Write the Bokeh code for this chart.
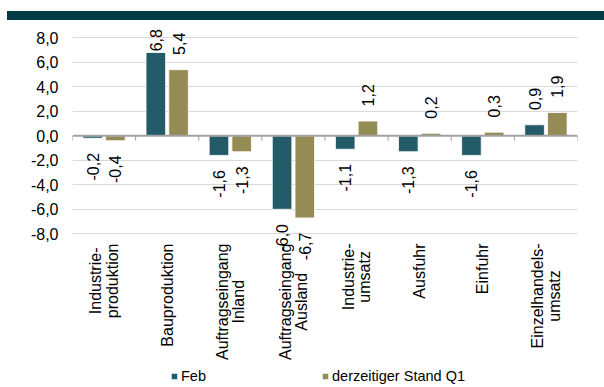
import math
from bokeh.plotting import figure
from bokeh.models import (Range1d, FactorRange, FixedTicker, Legend, LegendItem,
                          ColumnDataSource, Div)
from bokeh.transform import dodge
from bokeh.layouts import column
from bokeh.embed import file_html
from bokeh.resources import INLINE

categories = ["Industrie-\nproduktion", "Bauproduktion", "Auftragseingang\nInland",
              "Auftragseingang\nAusland", "Industrie-\numsatz", "Ausfuhr", "Einfuhr",
              "Einzelhandels-\numsatz"]
feb = [-0.2, 6.8, -1.6, -6.0, -1.1, -1.3, -1.6, 0.9]
q1 = [-0.4, 5.4, -1.3, -6.7, 1.2, 0.2, 0.3, 1.9]
series_names = ["Feb", "derzeitiger Stand Q1"]
y_ticks = [-8, -6, -4, -2, 0, 2, 4, 6, 8]

FONT = "Liberation Sans"
C_FEB = "#235B69"
C_Q1 = "#958B54"
OFFS = [-0.18, 0.18]

# layout (pixels): the frame reaches down to the bottom so that labels below
# the value area (as in the original) are not clipped
TOP_BAND = 20
FRAME_TOP = 28
FRAME_H = 387 - FRAME_TOP
PPU = 12.25                       # pixels per value unit
Y_MAX = 8 + (37.3 - FRAME_TOP) / PPU
Y_MIN = Y_MAX - FRAME_H / PPU
CAT_LABEL_TOP_PX = 243
CAT_FS = 16

# approximate glyph advance widths (per 1000 em) for centring label lines
ADV = {"A": 667, "B": 667, "E": 667, "I": 278, "a": 556, "d": 556, "e": 556,
       "f": 278, "g": 556, "h": 556, "i": 222, "k": 500, "l": 222, "n": 556,
       "o": 556, "p": 556, "r": 333, "s": 500, "t": 278, "u": 556, "z": 500, "-": 333}


def text_w(s, fs):
    return sum(ADV.get(c, 556) for c in s) * fs / 1000.0


def px_to_y(px):
    return Y_MAX - (px - FRAME_TOP) / PPU


def fmt(v):
    return f"{v:.1f}".replace(".", ",")


src = ColumnDataSource(dict(cat=categories, feb=feb, q1=q1))

p = figure(x_range=FactorRange(*categories), y_range=Range1d(Y_MIN, Y_MAX),
           frame_width=505, frame_height=FRAME_H, output_backend="svg",
           toolbar_location=None, min_border_left=72, min_border_right=27,
           min_border_top=FRAME_TOP - TOP_BAND, min_border_bottom=0)
p.outline_line_color = None
p.background_fill_color = "white"

# grid
p.xgrid.grid_line_color = None
p.ygrid.ticker = FixedTicker(ticks=[t for t in y_ticks if t != 0])
p.ygrid.grid_line_color = "#D9D9D9"
p.ygrid.grid_line_width = 1

# bars
r_feb = p.vbar(x=dodge("cat", OFFS[0], range=p.x_range), top="feb", width=0.31,
               source=src, fill_color=C_FEB, line_color="white", line_width=0.8)
r_q1 = p.vbar(x=dodge("cat", OFFS[1], range=p.x_range), top="q1", width=0.31,
              source=src, fill_color=C_Q1, line_color="white", line_width=0.8)

# zero axis line and category boundary ticks
bounds = list(range(len(categories) + 1))
p.segment(x0=[0], y0=[0], x1=[len(categories)], y1=[0], line_color="#A0A0A0", line_width=2)
p.segment(x0=bounds, y0=[0] * len(bounds), x1=bounds, y1=[-0.4] * len(bounds),
          line_color="#A0A0A0", line_width=1)

# data labels (outside end; kept inside the top of the plot)
lx, ly, lt, la = [], [], [], []
for series, off in [(feb, OFFS[0]), (q1, OFFS[1])]:
    for i, v in enumerate(series):
        lx.append(i + 0.5 + off)
        lt.append(fmt(v))
        if v >= 0:
            ly.append(min(v + 1.2, 6.9))
            la.append("left")
        else:
            ly.append(v - 1.2)
            la.append("right")
p.text(x=lx, y=ly, text=lt, text_align=la, angle=math.pi / 2,
       text_baseline="middle", text_font={"value": FONT}, text_font_size="16px",
       text_color="#000000")

# category labels (rotated, lines centred, block starting below the plot)
cx, cy, ct = [], [], []
for i, c in enumerate(categories):
    L = max(text_w(s, CAT_FS) for s in c.split("\n"))
    cx.append(i + 0.5)
    cy.append(px_to_y(CAT_LABEL_TOP_PX + L / 2))
    ct.append(c)
p.text(x=cx, y=cy, text=ct, angle=math.pi / 2, text_align="center",
       text_baseline="middle", text_font={"value": FONT},
       text_font_size=f"{CAT_FS}px", text_color="#000000", text_line_height=0.95)

# axes
p.xaxis.visible = False
p.yaxis.ticker = FixedTicker(ticks=y_ticks)
p.yaxis.major_label_overrides = {t: fmt(t) for t in y_ticks}
p.yaxis.axis_line_color = None
p.yaxis.major_tick_line_color = None
p.yaxis.minor_tick_line_color = None
p.yaxis.major_label_standoff = 8
p.yaxis.major_label_text_font = FONT
p.yaxis.major_label_text_font_size = "16px"
p.yaxis.major_label_text_color = "#000000"

legend = Legend(items=[LegendItem(label=series_names[0], renderers=[r_feb]),
                       LegendItem(label=series_names[1], renderers=[r_q1])],
                orientation="horizontal", location=(98, 3), spacing=115,
                glyph_width=8, glyph_height=8, label_standoff=3,
                label_text_font=FONT, label_text_font_size="14.5px",
                label_text_color="#000000", border_line_color=None,
                padding=2, margin=0, background_fill_alpha=0)
p.add_layout(legend)

band = Div(text="", width=597, height=9, margin=(11, 0, 0, 7),
           styles={"background-color": "#003B48"})

layout = column(band, p, spacing=0)
open("out.html", "w").write(file_html(layout, INLINE))
